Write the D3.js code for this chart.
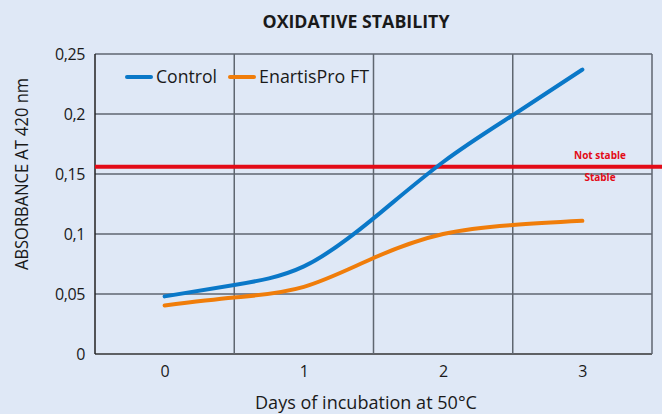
<!DOCTYPE html>
<html>
<head>
<meta charset="utf-8">
<script src="https://cdn.jsdelivr.net/npm/d3@7"></script>
<style>
  body { margin: 0; background: #dfe8f6; }
  text { font-family: "Open Sans", sans-serif; fill: #1a1a1a; }
</style>
</head>
<body>
<script>
var width = 662,
    height = 414;

// data
var days = [0, 0.5, 1, 1.5, 2, 2.5, 3];
var control = [0.048, 0.0575, 0.073, 0.113, 0.160, 0.199, 0.237];
var enartis = [0.0405, 0.047, 0.056, 0.080, 0.100, 0.1075, 0.111];
var xTicks = [0, 1, 2, 3];
var yTicks = [0, 0.05, 0.1, 0.15, 0.2, 0.25];
var threshold = 0.156;
var seriesNames = ["Control", "EnartisPro FT"];
var color = ["#0a78c8", "#f07d0a"];

var margin = {left: 95, right: 10, top: 54, bottom: 60};

var svg = d3.select("body").append("svg")
    .attr("width", width)
    .attr("height", height);

var x = d3.scaleLinear().domain([-0.5, 3.5]).range([margin.left, width - margin.right]);
var y = d3.scaleLinear().domain([0, 0.25]).range([height - margin.bottom, margin.top]);

var fmt = function (d) { return String(d).replace(".", ","); };

// grid
svg.selectAll("line.hgrid").data(yTicks).enter().append("line")
    .attr("x1", x(-0.5)).attr("x2", x(3.5))
    .attr("y1", function (d) { return y(d); })
    .attr("y2", function (d) { return y(d); })
    .style("stroke", function (d) { return d === 0 ? "#333" : "#5f6670"; })
    .style("stroke-width", 1.5);

svg.selectAll("line.vgrid").data([-0.5, 0.5, 1.5, 2.5, 3.5]).enter().append("line")
    .attr("x1", function (d) { return x(d); })
    .attr("x2", function (d) { return x(d); })
    .attr("y1", y(0.25)).attr("y2", y(0))
    .style("stroke", function (d) { return d === -0.5 ? "#222" : "#5f6670"; })
    .style("stroke-width", 1.5);

// axes labels
var yAxis = svg.append("g")
    .attr("transform", "translate(" + margin.left + ",0)")
    .call(d3.axisLeft(y).tickValues(yTicks).tickFormat(fmt).tickSize(0).tickPadding(10));
yAxis.select(".domain").remove();
yAxis.selectAll("text").style("font-size", "16px").style("font-family", "Open Sans, sans-serif")
    .attr("fill", "#1a1a1a").attr("letter-spacing", "-0.4");

var xAxis = svg.append("g")
    .attr("transform", "translate(0," + y(0) + ")")
    .call(d3.axisBottom(x).tickValues(xTicks).tickFormat(d3.format("d")).tickSize(0).tickPadding(12));
xAxis.select(".domain").remove();
xAxis.selectAll("text").style("font-size", "16px").style("font-family", "Open Sans, sans-serif").attr("fill", "#1a1a1a");

// threshold line
svg.append("line")
    .attr("x1", x(-0.5)).attr("x2", width)
    .attr("y1", y(threshold)).attr("y2", y(threshold))
    .style("stroke", "#e30b17").style("stroke-width", 4);

svg.append("text").attr("x", 600).attr("y", y(threshold) - 8)
    .attr("text-anchor", "middle")
    .style("font-size", "10px").style("font-weight", "bold").style("fill", "#e30b17")
    .text("Not stable");
svg.append("text").attr("x", 600).attr("y", y(threshold) + 14)
    .attr("text-anchor", "middle")
    .style("font-size", "10px").style("font-weight", "bold").style("fill", "#e30b17")
    .text("Stable");

// series
var line = d3.line()
    .x(function (d) { return x(d[0]); })
    .y(function (d) { return y(d[1]); })
    .curve(d3.curveNatural);

[control, enartis].forEach(function (vals, i) {
    svg.append("path")
        .datum(days.map(function (d, j) { return [d, vals[j]]; }))
        .attr("d", line)
        .style("fill", "none")
        .style("stroke", color[i])
        .style("stroke-width", 4)
        .style("stroke-linecap", "round");
});

// legend
var legendX = [127, 230];
var legendW = [61, 110];
seriesNames.forEach(function (name, i) {
    svg.append("line")
        .attr("x1", legendX[i]).attr("x2", legendX[i] + 24)
        .attr("y1", 77).attr("y2", 77)
        .style("stroke", color[i]).style("stroke-width", 4)
        .style("stroke-linecap", "round");
    svg.append("text")
        .attr("x", legendX[i] + 29).attr("y", 83)
        .attr("textLength", legendW[i]).attr("lengthAdjust", "spacingAndGlyphs")
        .style("font-size", "18px")
        .text(name);
});

// titles
svg.append("text").attr("x", 356).attr("y", 28)
    .attr("text-anchor", "middle")
    .attr("textLength", 187).attr("lengthAdjust", "spacingAndGlyphs")
    .style("font-size", "17px").style("font-weight", "bold")
    .text("OXIDATIVE STABILITY");

svg.append("text").attr("x", 366).attr("y", 409)
    .attr("text-anchor", "middle")
    .attr("textLength", 222).attr("lengthAdjust", "spacingAndGlyphs")
    .style("font-size", "18px")
    .text("Days of incubation at 50°C");

svg.append("text")
    .attr("transform", "translate(28," + 174 + ") rotate(-90)")
    .attr("text-anchor", "middle")
    .attr("textLength", 192).attr("lengthAdjust", "spacingAndGlyphs")
    .style("font-size", "18px")
    .text("ABSORBANCE AT 420 nm");
</script>
</body>
</html>
